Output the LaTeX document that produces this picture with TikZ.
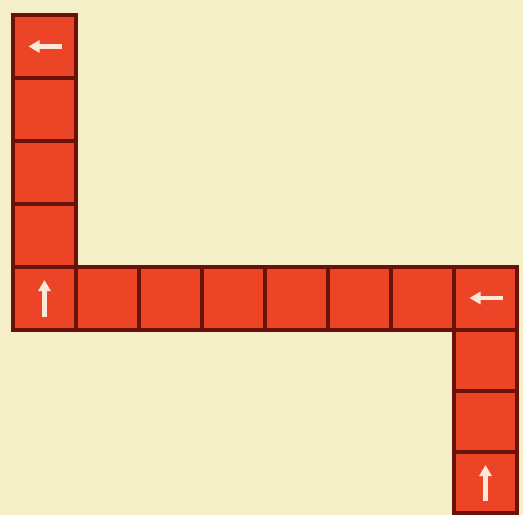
\documentclass[tikz,border=0pt]{standalone}
\usetikzlibrary{arrows.meta}
\definecolor{bg}{RGB}{245,239,199}
\definecolor{cellred}{RGB}{236,68,38}
\definecolor{edge}{RGB}{105,18,10}
\definecolor{glow}{RGB}{255,232,215}
\tikzset{
  cell/.style={rectangle, fill=cellred, draw=edge, line width=4pt, minimum width=63pt, minimum height=63pt, inner sep=0pt, outer sep=0pt},
  tallcell/.style={cell, minimum height=61pt},
  arr/.style={draw=glow, line width=4.5pt, -{Triangle[width=12pt,length=11pt]}}
}
\begin{document}
\begin{tikzpicture}[x=1pt,y=-1pt]
\fill[bg] (0,0) rectangle (523,515);
\useasboundingbox (0,0) rectangle (523,515);
% left column
\node[cell] (L1) at (44.5,46.5) {};
\node[cell] (L2) at (44.5,109.5) {};
\node[cell] (L3) at (44.5,172.5) {};
\node[cell] (L4) at (44.5,235.5) {};
% horizontal row
\node[cell] (H1) at (44.5,298) {};
\node[cell] (H2) at (107.5,298) {};
\node[cell] (H3) at (170.5,298) {};
\node[cell] (H4) at (233.5,298) {};
\node[cell] (H5) at (296.5,298) {};
\node[cell] (H6) at (359.5,298) {};
\node[cell] (H7) at (422.5,298) {};
\node[cell] (H8) at (485.5,298) {};
% right column
\node[tallcell] (R1) at (485.5,360) {};
\node[tallcell] (R2) at (485.5,421) {};
\node[tallcell] (R3) at (485.5,482) {};
% arrows
\draw[arr] ([xshift=17pt]L1.center) -- ([xshift=-16pt]L1.center);
\draw[arr] ([yshift=-19pt]H1.center) -- ([yshift=18pt]H1.center);
\draw[arr] ([xshift=17pt]H8.center) -- ([xshift=-16pt]H8.center);
\draw[arr] ([yshift=-19pt]R3.center) -- ([yshift=17pt]R3.center);
\end{tikzpicture}
\end{document}
